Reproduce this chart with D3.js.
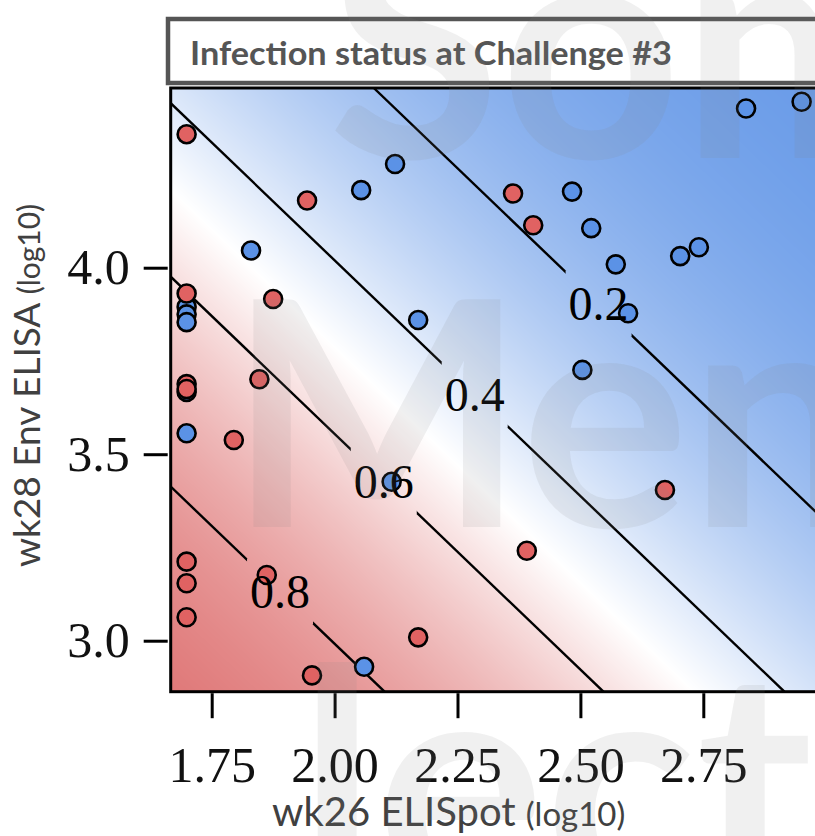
<!DOCTYPE html>
<html><head><meta charset="utf-8">
<script src="https://cdn.jsdelivr.net/npm/d3@7"></script>
<style>body{margin:0;background:#fff}svg{display:block}</style>
</head><body>
<script>
// ---------------- data ----------------
const titleText = "Infection status at Challenge #3";
const xTitle = "wk26 ELISpot", xTitleUnit = "(log10)";
const yTitle = "wk28 Env ELISA", yTitleUnit = "(log10)";
const watermarkWords = ["Som", "Men", "lect"];

const xTicks = [1.75, 2.00, 2.25, 2.50, 2.75];
const yTicks = [3.0, 3.5, 4.0];
const xDomain = [1.6666, 3.0];
const yDomain = [2.8633, 4.4818];

// infected (red) animals
const infectedElispot = [1.699, 1.944, 1.699, 1.875, 1.847, 1.699, 1.699, 1.795, 2.363, 2.404, 2.672, 2.391, 1.699, 1.699, 1.699, 1.862, 2.170, 1.954];
const infectedElisa   = [4.358, 4.180, 3.931, 3.916, 3.701, 3.688, 3.675, 3.538, 4.199, 4.114, 3.404, 3.241, 3.212, 3.154, 3.063, 3.176, 3.009, 2.907];
// uninfected (blue) animals
const uninfectedElispot = [2.123, 2.054, 1.830, 2.170, 1.699, 1.699, 1.699, 1.699, 1.699, 2.116, 2.060, 2.837, 2.950, 2.483, 2.522, 2.572, 2.703, 2.741, 2.597, 2.504];
const uninfectedElisa   = [4.278, 4.208, 4.046, 3.860, 3.895, 3.875, 3.854, 3.667, 3.556, 3.426, 2.930, 4.427, 4.445, 4.204, 4.106, 4.009, 4.031, 4.055, 3.878, 3.726];

// fitted logistic model: logit(p) = b0 + b1*ELISpot + b2*ELISA
const modelCoef = [11.007, -2.203, -1.743];
const contourLevels = [0.2, 0.4, 0.6, 0.8];
const contourLabelElispot = [2.537, 2.285, 2.100, 1.889];

// ---------------- layout ----------------
const W = 815, H = 836;
const m = {left: 170.7, top: 88, bottom: 691.7};
const pxPerX = 491.6;
const x = d3.scaleLinear().domain(xDomain).range([m.left, m.left + (xDomain[1]-xDomain[0])*pxPerX]);
const y = d3.scaleLinear().domain(yDomain).range([m.bottom, m.top]);

const redEnd = [217, 93, 93], blueEnd = [96, 149, 231];
const ptRed = "#e06262", ptBlue = "#5b92e6";

const svg = d3.select("body").append("svg").attr("width", W).attr("height", H);

const [b0, b1, b2] = modelCoef;
const prob = (X, Y) => 1 / (1 + Math.exp(-(b0 + b1*X + b2*Y)));

// background probability surface
const px0 = x.range()[0], py0 = y.range()[1];
const pw = Math.ceil(x.range()[1] - px0), ph = Math.ceil(y.range()[0] - py0);
const canvas = document.createElement("canvas");
canvas.width = pw; canvas.height = ph;
const ctx = canvas.getContext("2d");
const img = ctx.createImageData(pw, ph);
const colorScale = d3.scaleLinear().domain([0, 0.5, 1])
  .range([d3.rgb(...blueEnd), d3.rgb(255,255,255), d3.rgb(...redEnd)]);
const lut = d3.range(1001).map(i => d3.rgb(colorScale(i/1000)));
for (let j = 0; j < ph; j++) {
  const Y = y.invert(py0 + j + 0.5);
  for (let i = 0; i < pw; i++) {
    const X = x.invert(px0 + i + 0.5);
    const c = lut[Math.round(prob(X, Y)*1000)];
    const k = (j*pw + i)*4;
    img.data[k] = c.r; img.data[k+1] = c.g; img.data[k+2] = c.b; img.data[k+3] = 255;
  }
}
ctx.putImageData(img, 0, 0);
svg.append("image").attr("href", canvas.toDataURL())
  .attr("x", px0).attr("y", py0).attr("width", pw).attr("height", ph)
  .attr("preserveAspectRatio", "none");

// contour lines (straight lines of equal probability)
const logit = p => Math.log(p/(1-p));
function levelSegment(L) {
  const pts = [];
  for (const X of xDomain) { const Y = (L - b0 - b1*X)/b2; if (Y >= yDomain[0] && Y <= yDomain[1]) pts.push([X, Y]); }
  for (const Y of yDomain) { const X = (L - b0 - b2*Y)/b1; if (X >= xDomain[0] && X <= xDomain[1]) pts.push([X, Y]); }
  return pts.sort((a, b) => a[0] - b[0]).slice(0, 2);
}
const labelPos = contourLevels.map((p, i) => {
  const X = contourLabelElispot[i];
  return {p, X, Y: (logit(p) - b0 - b1*X)/b2};
});
const defs = svg.append("defs");
const mask = defs.append("mask").attr("id", "gaps").attr("maskUnits", "userSpaceOnUse")
  .attr("x", 0).attr("y", 0).attr("width", W).attr("height", H);
mask.append("rect").attr("width", W).attr("height", H).attr("fill", "#fff");
mask.selectAll("rect.g").data(labelPos).join("rect").attr("class", "g")
  .attr("x", d => x(d.X) - 33).attr("y", d => y(d.Y) - 33)
  .attr("width", 66).attr("height", 66).attr("fill", "#000");
defs.append("clipPath").attr("id", "plotclip").append("rect")
  .attr("x", px0).attr("y", py0).attr("width", pw).attr("height", ph);

const line = d3.line().x(d => x(d[0])).y(d => y(d[1]));
svg.append("g").attr("mask", "url(#gaps)").attr("clip-path", "url(#plotclip)")
  .selectAll("path").data(contourLevels).join("path")
  .attr("d", p => line(levelSegment(logit(p))))
  .attr("fill", "none").attr("stroke", "#000").attr("stroke-width", 2.4);

// points
const pts = svg.append("g").attr("clip-path", "url(#plotclip)");
pts.selectAll("circle.u").data(d3.range(uninfectedElispot.length)).join("circle").attr("class", "u")
  .attr("cx", i => x(uninfectedElispot[i])).attr("cy", i => y(uninfectedElisa[i])).attr("r", 9)
  .attr("fill", ptBlue).attr("stroke", "#000").attr("stroke-width", 2.6);
pts.selectAll("circle.i").data(d3.range(infectedElispot.length)).join("circle").attr("class", "i")
  .attr("cx", i => x(infectedElispot[i])).attr("cy", i => y(infectedElisa[i])).attr("r", 9)
  .attr("fill", ptRed).attr("stroke", "#000").attr("stroke-width", 2.6);

// contour labels
svg.append("g").selectAll("text").data(labelPos).join("text")
  .attr("x", d => x(d.X)).attr("y", d => y(d.Y)).attr("dy", "0.35em")
  .attr("text-anchor", "middle")
  .attr("font-family", "'Liberation Serif', 'DejaVu Serif', serif").attr("font-size", 48)
  .attr("fill", "#000").text(d => d.p.toFixed(1));

// frame
svg.append("rect").attr("x", px0).attr("y", py0).attr("width", pw).attr("height", m.bottom - py0)
  .attr("fill", "none").attr("stroke", "#000").attr("stroke-width", 3);

// axes
const serif = "'Liberation Serif', 'DejaVu Serif', serif";
const xAxis = d3.axisBottom(x).tickValues(xTicks).tickFormat(d3.format(".2f")).tickSize(25).tickPadding(28);
const gx = svg.append("g").attr("transform", `translate(0,${m.bottom + 1.5})`).call(xAxis);
gx.select(".domain").remove();
gx.selectAll("line").attr("stroke", "#000").attr("stroke-width", 3);
gx.selectAll("text").attr("font-family", serif).attr("font-size", 50).attr("fill", "#111");

const yAxis = d3.axisLeft(y).tickValues(yTicks).tickFormat(d3.format(".1f")).tickSize(24).tickPadding(14);
const gy = svg.append("g").attr("transform", `translate(${m.left - 3},0)`).call(yAxis);
gy.select(".domain").remove();
gy.selectAll("line").attr("stroke", "#000").attr("stroke-width", 3);
gy.selectAll("text").attr("font-family", serif).attr("font-size", 50).attr("fill", "#111");

// axis titles
const sans = "Lato, 'Open Sans', sans-serif";
const xt = svg.append("text").attr("x", 272).attr("y", 826)
  .attr("font-family", sans).attr("font-size", 40).attr("fill", "#404040");
xt.append("tspan").text(xTitle + " ");
xt.append("tspan").attr("font-size", 33).text(xTitleUnit);

const yt = svg.append("text").attr("transform", "translate(40,567) rotate(-90)")
  .attr("font-family", sans).attr("font-size", 37).attr("fill", "#404040");
yt.append("tspan").text(yTitle + " ");
yt.append("tspan").attr("font-size", 30).text(yTitleUnit);

// title box
svg.append("rect").attr("x", 168).attr("y", 19).attr("width", 700).attr("height", 64)
  .attr("fill", "#fff").attr("stroke", "#555").attr("stroke-width", 4.5);
svg.append("text").attr("x", 190).attr("y", 65).attr("font-family", sans).attr("font-weight", 700)
  .attr("font-size", 33).attr("fill", "#555").attr("textLength", 482).attr("lengthAdjust", "spacingAndGlyphs")
  .text(titleText);

// watermark
const wm = svg.append("g").attr("font-family", sans).attr("font-weight", 700).attr("font-size", 315)
  .attr("fill", "#808080").attr("fill-opacity", 0.12).attr("pointer-events", "none");
wm.append("text").attr("x", 328).attr("y", 158).text(watermarkWords[0]);
wm.append("text").attr("x", 228).attr("y", 527).text(watermarkWords[1]);
wm.append("text").attr("x", 298).attr("y", 896).text(watermarkWords[2]);
</script>
</body></html>
